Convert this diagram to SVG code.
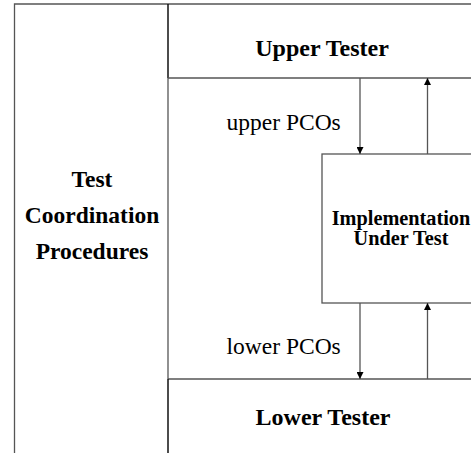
<svg xmlns="http://www.w3.org/2000/svg" width="471" height="453" viewBox="0 0 471 453">
  <defs>
    <marker id="ah" viewBox="0 0 10 10" refX="10" refY="5" markerWidth="7" markerHeight="7" markerUnits="userSpaceOnUse" orient="auto">
      <path d="M0,0 L10,5 L0,10 Z" fill="#000"/>
    </marker>
    <style>
      .ln { fill: none; stroke: #555; stroke-width: 1.3; }
      .dk { fill: none; stroke: #111; stroke-width: 1.5; }
      .bt { font-family: "Liberation Serif", "Times New Roman", serif; font-weight: bold; fill: #000; text-anchor: middle; }
      .rt { font-family: "Liberation Serif", "Times New Roman", serif; fill: #000; }
      .cn { fill: none; stroke: #555; stroke-width: 1.3; marker-end: url(#ah); }
    </style>
  </defs>
  <rect x="0" y="0" width="471" height="453" fill="#fff"/>
  <g id="test-coordination">
    <path class="ln" d="M14.5,453 V4 H471"/>
    <path class="ln" d="M168,78 V379"/>
    <text class="bt" x="92" y="187" font-size="23.5">Test</text>
    <text class="bt" x="92" y="223" font-size="23.5">Coordination</text>
    <text class="bt" x="92" y="259" font-size="23.5">Procedures</text>
  </g>
  <g id="upper-tester">
    <path class="dk" d="M168,4 V78"/>
    <path class="ln" d="M168,78 H471"/>
    <text class="bt" x="322" y="56" font-size="24">Upper Tester</text>
  </g>
  <g id="iut">
    <rect class="ln" x="322" y="154" width="170" height="149"/>
    <text class="bt" x="401" y="225" font-size="20.3">Implementation</text>
    <text class="bt" x="401" y="245" font-size="20.3">Under Test</text>
  </g>
  <g id="lower-tester">
    <path class="ln" d="M168,379 H471"/>
    <path class="dk" d="M168,379 V453"/>
    <text class="bt" x="323" y="425" font-size="24">Lower Tester</text>
  </g>
  <g id="connectors">
    <line class="cn" x1="360" y1="78" x2="360" y2="154"/>
    <line class="cn" x1="427.5" y1="154" x2="427.5" y2="78"/>
    <line class="cn" x1="360" y1="303" x2="360" y2="379"/>
    <line class="cn" x1="427.5" y1="379" x2="427.5" y2="303"/>
    <text class="rt" x="226.5" y="130" font-size="23.5">upper PCOs</text>
    <text class="rt" x="226.5" y="354" font-size="23.5">lower PCOs</text>
  </g>
</svg>
